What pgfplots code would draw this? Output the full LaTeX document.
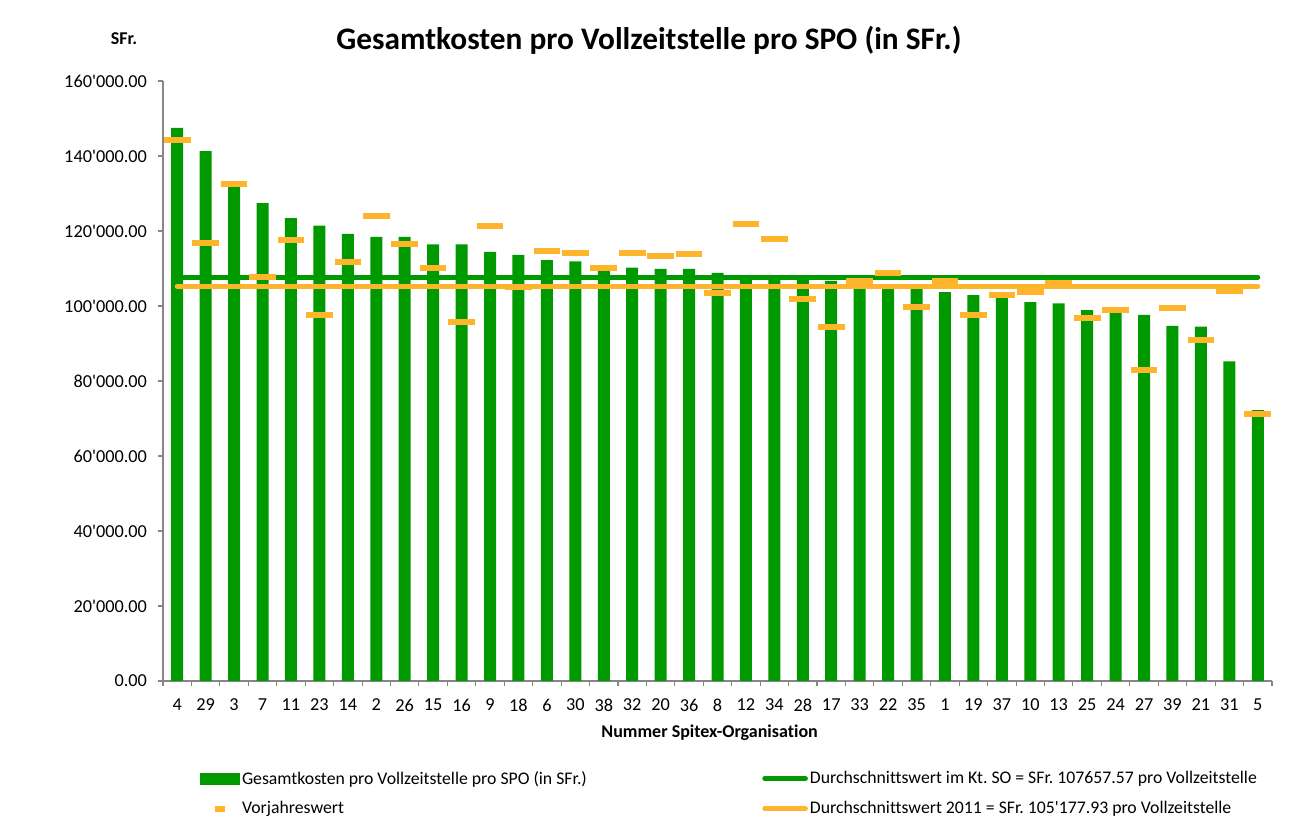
\documentclass[border=0pt]{standalone}
\usepackage{pgfplots}
\pgfplotsset{compat=1.18}
\usepackage{fontspec}
\setmainfont{Carlito}[Ligatures={NoCommon}]
\definecolor{sgreen}{RGB}{0,153,0}
\definecolor{sorange}{RGB}{255,181,43}
\definecolor{axgray}{RGB}{134,134,134}
\frenchspacing
\begin{document}
\begin{tikzpicture}
\path[use as bounding box] (0,0) rectangle (967.5pt,622.5pt);
\node[font=\fontsize{23.5}{26}\bfseries\selectfont, anchor=base] at ({649*0.75pt},{(830-50)*0.75pt}) {Gesamtkosten pro Vollzeitstelle pro SPO (in SFr.)};
\node[font=\fontsize{13.5}{15}\bfseries\selectfont, anchor=base] at ({124*0.75pt},{(830-45)*0.75pt}) {SFr.};
\begin{axis}[
  at={(122.25pt,111.75pt)}, anchor=south west,
  scale only axis, width=831.75pt, height=450pt,
  xmin=-0.5, xmax=38.5, ymin=0, ymax=160000,
  axis lines*=left,
  axis line style={axgray, line width=0.8pt},
  tick style={axgray, line width=0.8pt},
  tick align=outside,
  major tick length=4pt,
  ytick={0,20000,...,160000},
  scaled y ticks=false,
  yticklabel style={font=\fontsize{13.7}{15}\selectfont, xshift=-4.5pt, /pgf/number format/.cd, fixed, fixed zerofill, precision=2, 1000 sep={\textquotesingle}, assume math mode=true},
  xtick={-0.5,0.5,...,38.5},
  xticklabel={\relax},
  extra x ticks={0,...,38},
  extra x tick labels={4,29,3,7,11,23,14,2,26,15,16,9,18,6,30,38,32,20,36,8,12,34,28,17,33,22,35,1,19,37,10,13,25,24,27,39,21,31,5},
  extra x tick style={major tick length=0pt, tick label style={font=\fontsize{13.7}{15}\selectfont, yshift=-10pt}},
  xlabel={Nummer Spitex-Organisation},
  xlabel style={font=\fontsize{13.5}{15}\bfseries\selectfont, at={(0.4929,0)}, anchor=base, yshift=-42.5pt},
  legend columns=2,
  legend style={draw=none, fill=none, inner sep=0pt, outer sep=0pt, at={(0.0334,-0.1875)}, anchor=west,
    font=\fontsize{13.3}{15}\selectfont, row sep=8.5pt,
    /tikz/every even column/.append style={column sep=130pt},
    nodes={inner sep=1.5pt}},
  legend cell align=left,
]
\addplot[ybar, bar width=9pt, bar shift=0pt, fill=sgreen, draw=none,
  legend image code/.code={\fill[sgreen] (0pt,-4.5pt) rectangle (30pt,4.5pt);}]
 coordinates {
(0,147500) (1,141300) (2,131700) (3,127400) (4,123400) (5,121400) (6,119200) (7,118400) (8,118400) (9,116400)
(10,116400) (11,114400) (12,113600) (13,112200) (14,111900) (15,110800) (16,110200) (17,109900) (18,109900) (19,108800)
(20,107600) (21,107400) (22,107200) (23,106700) (24,106300) (25,105500) (26,104700) (27,103700) (28,102900) (29,102200)
(30,101000) (31,100700) (32,98900) (33,98500) (34,97600) (35,94700) (36,94500) (37,85200) (38,72200)
};
\addlegendentry{Gesamtkosten pro Vollzeitstelle pro SPO (in SFr.)}
\addplot[sgreen, line width=3.75pt, line cap=round, mark=none,
  legend image code/.code={\draw[sgreen, line width=3.75pt, line cap=round] (1.5pt,0pt) -- (32pt,0pt);}]
 coordinates {(0,107657.57) (38,107657.57)};
\addlegendentry{Durchschnittswert im Kt. SO = SFr. 107657.57 pro Vollzeitstelle}
\addplot[sorange, only marks, mark=-, mark size=10pt, mark options={sorange, line width=4.5pt},
  legend image code/.code={\draw[sorange, line width=4.5pt] (11pt,0pt) -- (19pt,0pt); \path[draw=none, fill=none] (0pt,0pt) -- (30pt,0pt);}]
 coordinates {
(0,144300) (1,116800) (2,132500) (3,107800) (4,117600) (5,97600) (6,111700) (7,124000) (8,116400) (9,110200)
(10,95700) (11,121400) (12,105000) (13,114700) (14,114200) (15,110000) (16,114200) (17,113200) (18,113900) (19,103500)
(20,121800) (21,117900) (22,101900) (23,94500) (24,106700) (25,108900) (26,99600) (27,106700) (28,97600) (29,102900)
(30,103800) (31,106000) (32,96800) (33,98900) (34,82900) (35,99400) (36,90800) (37,104000) (38,71200)
};
\addlegendentry{Vorjahreswert}
\addplot[sorange, line width=3.75pt, line cap=round, mark=none,
  legend image code/.code={\draw[sorange, line width=3.75pt, line cap=round] (1.5pt,0pt) -- (32pt,0pt);}]
 coordinates {(0,105177.93) (38,105177.93)};
\addlegendentry{Durchschnittswert 2011 = SFr. 105\textquotesingle177.93 pro Vollzeitstelle}
\end{axis}
\end{tikzpicture}
\end{document}
